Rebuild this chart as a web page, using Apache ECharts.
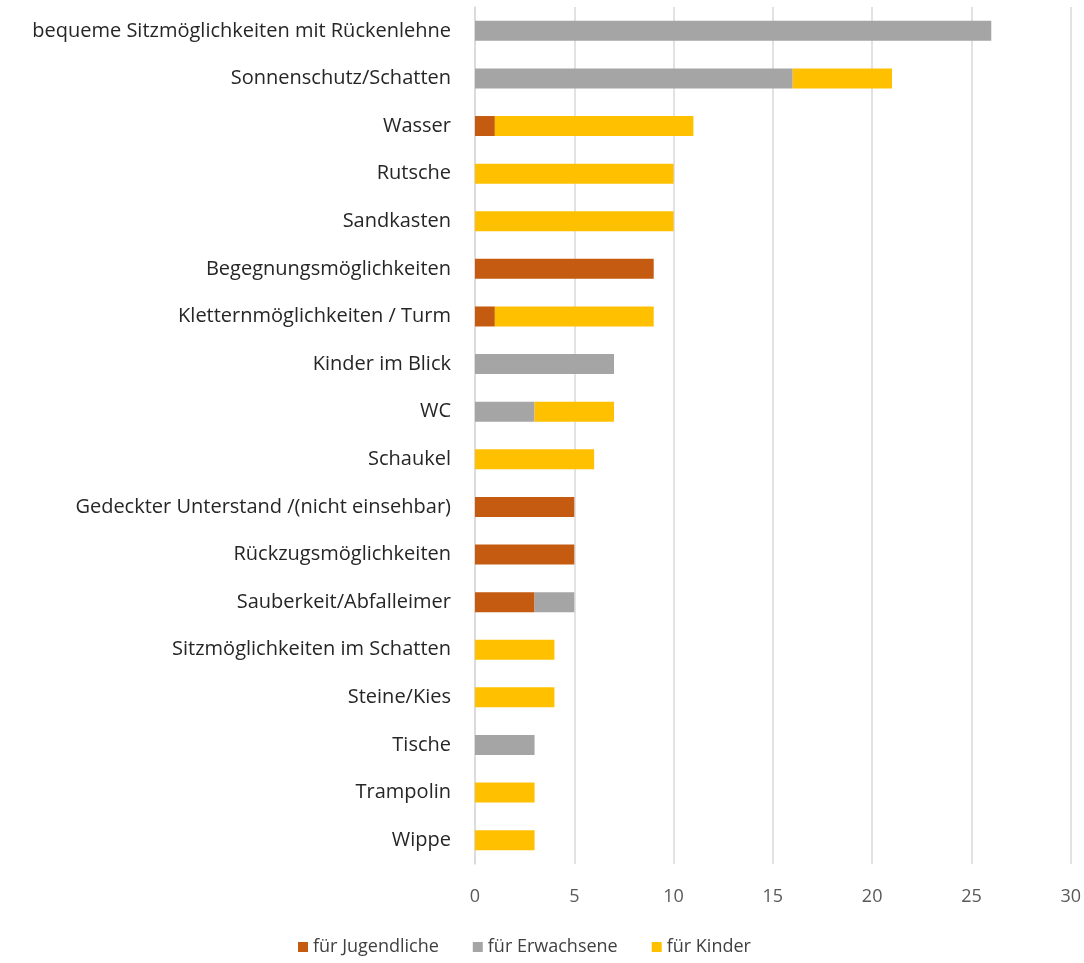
<!DOCTYPE html>
<html>
<head>
<meta charset="utf-8">
<script src="https://cdn.jsdelivr.net/npm/echarts@6/dist/echarts.min.js"></script>
<style>
    html, body { margin: 0; padding: 0; background: #fff; }
    #main { width: 1084px; height: 963px; }
</style>
</head>
<body>
<div id="main"></div>
<script>
    // Kategorien von oben nach unten
    var categories = [
        'bequeme Sitzmöglichkeiten mit Rückenlehne',
        'Sonnenschutz/Schatten',
        'Wasser',
        'Rutsche',
        'Sandkasten',
        'Begegnungsmöglichkeiten',
        'Kletternmöglichkeiten / Turm',
        'Kinder im Blick',
        'WC',
        'Schaukel',
        'Gedeckter Unterstand /(nicht einsehbar)',
        'Rückzugsmöglichkeiten',
        'Sauberkeit/Abfalleimer',
        'Sitzmöglichkeiten im Schatten',
        'Steine/Kies',
        'Tische',
        'Trampolin',
        'Wippe'
    ];
    var seriesNames = ['für Jugendliche', 'für Erwachsene', 'für Kinder'];
    var jugendliche = [0, 0, 1, 0, 0, 9, 1, 0, 0, 0, 5, 5, 3, 0, 0, 0, 0, 0];
    var erwachsene  = [26, 16, 0, 0, 0, 0, 0, 7, 3, 0, 0, 0, 2, 0, 0, 3, 0, 0];
    var kinder      = [0, 5, 10, 10, 10, 0, 8, 0, 4, 6, 0, 0, 0, 4, 4, 0, 3, 3];
    var xTicks = [0, 5, 10, 15, 20, 25, 30];

    var colors = ['#C55A11', '#A5A5A5', '#FFC000'];
    var font = '"Open Sans", Lato, sans-serif';

    function mkSeries(name, data) {
        return {
            name: name,
            type: 'bar',
            stack: 'total',
            barWidth: 20,
            data: data.map(function (v) { return v === 0 ? null : v; })
        };
    }

    var myChart = echarts.init(document.getElementById('main'));
    myChart.setOption({
        animation: false,
        color: colors,
        textStyle: { fontFamily: font },
        grid: { left: 475, right: 11, top: 7, bottom: 99 },
        legend: {
            data: seriesNames,
            bottom: 2,
            left: 293,
            itemWidth: 10,
            itemHeight: 10,
            itemGap: 34,
            icon: 'rect',
            textStyle: { fontFamily: font, fontSize: 18, color: '#404040' }
        },
        xAxis: {
            type: 'value',
            min: xTicks[0],
            max: xTicks[xTicks.length - 1],
            interval: 5,
            axisLine: { show: false },
            axisTick: { show: false },
            axisLabel: { color: '#595959', fontSize: 18, margin: 24 },
            splitLine: { lineStyle: { color: '#D9D9D9', width: 1.5 } }
        },
        yAxis: {
            type: 'category',
            inverse: true,
            data: categories,
            axisLine: { show: true, lineStyle: { color: '#D9D9D9', width: 1.5 } },
            axisTick: { show: false },
            axisLabel: { color: '#262626', fontSize: 20, margin: 24 }
        },
        series: [
            mkSeries(seriesNames[0], jugendliche),
            mkSeries(seriesNames[1], erwachsene),
            mkSeries(seriesNames[2], kinder)
        ]
    });
</script>
</body>
</html>
